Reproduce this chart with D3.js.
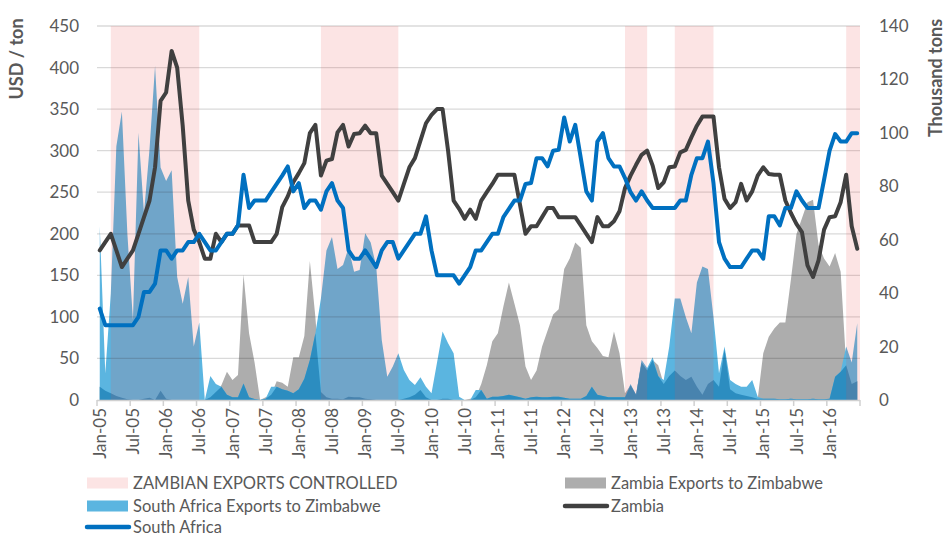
<!DOCTYPE html>
<html><head><meta charset="utf-8">
<script src="https://cdn.jsdelivr.net/npm/d3@7"></script>
<style>
body{margin:0;background:#fff;}
svg{display:block;font-family:Lato,"Open Sans",sans-serif;}
</style></head><body>
<svg id="chart" width="945" height="538"></svg>
<script>
// ---------- data ----------
const tickLabels = ["Jan-05","Jul-05","Jan-06","Jul-06","Jan-07","Jul-07","Jan-08","Jul-08","Jan-09","Jul-09","Jan-10","Jul-10","Jan-11","Jul-11","Jan-12","Jul-12","Jan-13","Jul-13","Jan-14","Jul-14","Jan-15","Jul-15","Jan-16"];
const leftTicks = [0,50,100,150,200,250,300,350,400,450];
const rightTicks = [0,20,40,60,80,100,120,140];

// USD / ton
const zambiaPrice = [
180,190,200,180,160,170,180,200,220,240,
280,360,370,420,400,330,240,205,190,170,
170,200,190,200,200,210,210,210,190,190,
190,190,200,232,245,262,273,285,321,331,
270,288,290,322,331,305,320,321,330,321,
321,270,260,250,240,260,280,291,312,333,
343,350,350,300,240,230,218,229,218,240,
250,260,271,271,271,271,235,200,209,209,
220,231,231,220,220,220,220,210,200,190,
220,209,209,215,227,255,270,283,295,300,
282,255,262,280,281,298,301,316,330,341,
341,341,280,242,231,238,260,240,251,270,
280,272,271,271,240,225,212,202,162,148,
168,205,220,221,238,271,209,182];

const southAfricaPrice = [
110,90,90,90,90,90,90,100,130,130,
140,180,180,170,180,180,190,190,200,190,
180,180,190,200,200,210,271,231,240,240,
240,250,260,270,281,251,261,231,240,240,
229,251,261,240,231,180,170,170,180,170,
160,180,190,190,170,180,190,200,200,221,
180,150,150,150,150,140,150,160,180,180,
190,200,200,220,230,240,240,260,261,291,
291,281,300,301,340,311,331,291,251,240,
311,321,291,281,281,267,250,240,251,240,
231,231,231,231,231,240,240,271,291,291,
311,261,190,170,160,160,160,170,180,180,
170,221,221,210,231,231,251,240,231,231,
231,265,300,320,311,311,321,321];

// Thousand tons
const saExports = [
65,10,40,95,108,62,30,100,70,94,
125,87,82,86,46,36,46,20,29,0,
9,6,5,2,1,1,6.2,1,0.4,0,
0.5,5,5,4,3.5,2.5,4,8,15,25,
38,56,61,49,50.5,57,48,48.7,62.4,59,
50,22.5,8.7,12.5,17.5,11.2,7.5,5.6,8.5,5,
2.5,14,25.6,21.2,17.5,1.2,0,0,3.7,3.7,
0.5,1.2,1.2,1.5,2,1.5,1,0.5,1,1.2,
1,1,1.2,1.2,0.8,0.5,0.5,0.5,1.5,5,
2,1.5,1,1,1,1,6,2,15,12,
16,9,7.5,20,38,38,31,25,44,50,
49,31,10,20,7.5,6,5,5,7.5,1.2,
0.5,0.5,0.5,0.3,0.3,0.5,0.3,0.3,0.3,0.5,
0.3,0.3,0.5,8.7,10.6,20,14,28.7];

const zambiaExports = [
5,3.5,2.5,1.5,0.8,0.3,0,0,0.5,0.8,
0,3.5,0.5,0,0,0,0,0,0,0,
1,3,5.5,10.6,7.5,9.4,47,25,14,0,
1,2,7,6.5,5,16,16,24,52,31,
3,1,0.5,0.5,0.3,1.2,1,1,0.5,0.3,
0,0,0,0,0,0.5,1,2,3.7,1,
0,0,0.5,0.5,0,0,0,0.5,1,6,
13,22,25,35,44,36,28,12.5,7.5,11,
20,26,32,34,49,53,59,57,28,22,
19.5,16.5,16,25.6,17.5,2.5,5.5,2,14,11,
15,13,6,9,11,9,7.5,8.7,5,2,
6,7.5,5,19,4,2.5,2,1.5,1,0.5,
17.5,23.7,26.8,29,29,45,62,68,74,75,
58,53,50,55,48,13,6,7];

const controlledPeriods = [["Mar-05","Jul-06"],["May-08","Jul-09"],["Dec-12","Apr-13"],["Sep-13","Apr-14"],["Apr-16","Jun-16"]];

// ---------- setup ----------
const fmt = d3.timeFormat("%b-%y");
const months = d3.timeMonths(new Date(2005,0,1), new Date(2016,6,1)).map(fmt);

const L = 97, R = 860, T = 26, B = 400;
const svg = d3.select("#chart");
const x = d3.scaleBand().domain(months).range([L, R]).padding(0);
const xc = m => x(m) + x.bandwidth()/2;
const yL = d3.scaleLinear().domain([0,450]).range([B, T]);
const yR = d3.scaleLinear().domain([0,140]).range([B, T]);

const txt = "#595959";

// areas
const area = vals => d3.area().x((d,i)=>xc(months[i])).y0(yR(0)).y1(d=>yR(d))(vals);
svg.append("path").attr("d", area(zambiaExports)).attr("fill", "#ADADAD");
svg.append("path").attr("d", area(saExports)).attr("fill", "#5BB5E0");
svg.append("path").attr("d", area(saExports.map((v,i)=>Math.min(v, zambiaExports[i])))).attr("fill", "#2C8DC0");

// gridlines
svg.append("g").selectAll("line").data(leftTicks.filter(d=>d>0)).join("line")
  .attr("x1", L).attr("x2", R).attr("y1", d=>yL(d)).attr("y2", d=>yL(d))
  .attr("stroke", "rgba(0,0,0,0.15)").attr("stroke-width", 1.3);

// controlled periods (translucent columns on top of areas)
svg.append("g").selectAll("rect").data(controlledPeriods).join("rect")
  .attr("x", d=>xc(d[0]))
  .attr("width", d=> (d[1]===months[months.length-1] ? R : xc(d[1])) - xc(d[0]))
  .attr("y", yR(140)).attr("height", yR(0)-yR(140))
  .attr("fill", "rgb(235,75,75)").attr("fill-opacity", 0.15);

// x axis
svg.append("line").attr("x1", L).attr("x2", R).attr("y1", B+0.5).attr("y2", B+0.5)
  .attr("stroke", "#D0D0D0").attr("stroke-width", 1.5);
const tickPos = tickLabels.map(t=>x(t)).concat([R]);
svg.append("g").selectAll("line").data(tickPos).join("line")
  .attr("x1", d=>d).attr("x2", d=>d).attr("y1", B).attr("y2", B+6)
  .attr("stroke", "#D0D0D0").attr("stroke-width", 1.5);
const xAxis = d3.axisBottom(x).tickValues(tickLabels).tickSize(0).tickPadding(0);
const gx = svg.append("g").attr("transform", `translate(0,${B})`).call(xAxis);
gx.select(".domain").remove();
gx.selectAll("text")
  .attr("transform", "translate(0,8) rotate(-90)")
  .attr("text-anchor", "end").attr("x", 0).attr("y", 0).attr("dy", "0.36em")
  .attr("fill", txt).style("font-size", "17px").style("font-family", "Lato");

// left axis
const gl = svg.append("g").attr("transform", `translate(${L},0)`)
  .call(d3.axisLeft(yL).tickValues(leftTicks).tickSize(0).tickPadding(18));
gl.select(".domain").remove();
gl.selectAll("text").attr("fill", txt).style("font-size", "17px").style("font-family", "Lato");

// right axis
const gr = svg.append("g").attr("transform", `translate(${R},0)`)
  .call(d3.axisRight(yR).tickValues(rightTicks).tickSize(0).tickPadding(19));
gr.select(".domain").remove();
gr.selectAll("text").attr("fill", txt).style("font-size", "17px").style("font-family", "Lato");

// axis titles
svg.append("text").attr("transform", "translate(23,59) rotate(-90)")
  .attr("text-anchor", "middle").attr("fill", txt)
  .style("font-size", "18px").style("font-weight", "bold").text("USD / ton");
svg.append("text").attr("transform", "translate(942,78) rotate(-90)")
  .attr("text-anchor", "middle").attr("fill", txt)
  .style("font-size", "18px").style("font-weight", "bold").text("Thousand tons");

// lines
const line = vals => d3.line().x((d,i)=>xc(months[i])).y(d=>yL(d))(vals);
svg.append("path").attr("d", line(zambiaPrice)).attr("fill", "none")
  .attr("stroke", "#404040").attr("stroke-width", 4).attr("stroke-linejoin", "round").attr("stroke-linecap", "round");
svg.append("path").attr("d", line(southAfricaPrice)).attr("fill", "none")
  .attr("stroke", "#0070C0").attr("stroke-width", 4).attr("stroke-linejoin", "round").attr("stroke-linecap", "round");

// legend
const legend = [
  {label:"ZAMBIAN EXPORTS CONTROLLED", type:"rect", fill:"rgb(235,75,75)", op:0.15, x:87, y:483},
  {label:"South Africa Exports to Zimbabwe", type:"rect", fill:"#5BB5E0", op:1, x:87, y:506},
  {label:"South Africa", type:"line", stroke:"#0070C0", x:87, y:527},
  {label:"Zambia Exports to Zimbabwe", type:"rect", fill:"#ADADAD", op:1, x:565, y:483},
  {label:"Zambia", type:"line", stroke:"#404040", x:565, y:506}
];
const lg = svg.append("g").selectAll("g").data(legend).join("g")
  .attr("transform", d=>`translate(${d.x},${d.y})`);
lg.filter(d=>d.type==="rect").append("rect")
  .attr("x", 0).attr("y", -5.5).attr("width", 41).attr("height", 11)
  .attr("fill", d=>d.fill).attr("fill-opacity", d=>d.op);
lg.filter(d=>d.type==="line").append("line")
  .attr("x1", 0).attr("x2", 42).attr("y1", 0).attr("y2", 0)
  .attr("stroke", d=>d.stroke).attr("stroke-width", 4.5).attr("stroke-linecap", "round");
lg.append("text").attr("x", 46).attr("y", 0).attr("dy", "0.34em")
  .attr("fill", txt).style("font-size", "16.5px").text(d=>d.label);
</script>
</body></html>
